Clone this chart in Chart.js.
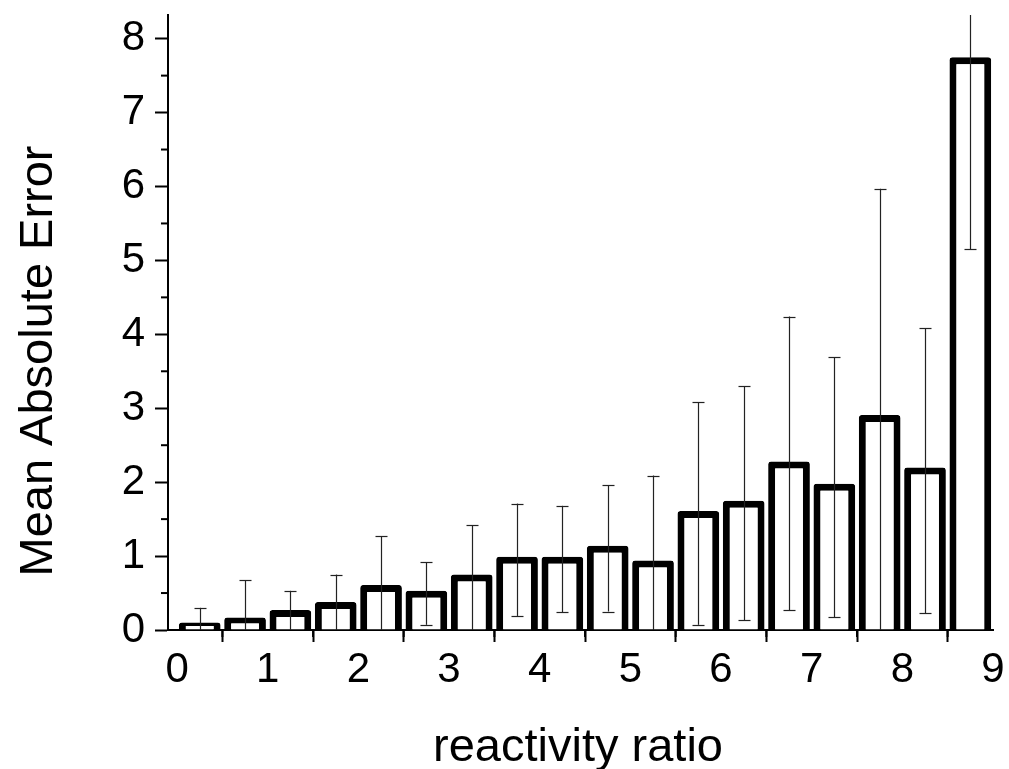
<!DOCTYPE html>
<html>
<head>
<meta charset="utf-8">
<script src="https://cdn.jsdelivr.net/npm/chart.js@4/dist/chart.umd.min.js"></script>
<style>
  html, body { margin: 0; padding: 0; background: #fff; }
  #wrap { width: 1009px; height: 769px; position: relative; }
</style>
</head>
<body>
<div id="wrap"><canvas id="c" width="1009" height="769"></canvas></div>
<script>
// ---- data ----
const xCenters = [0.25, 0.75, 1.25, 1.75, 2.25, 2.75, 3.25, 3.75, 4.25, 4.75, 5.25, 5.75, 6.25, 6.75, 7.25, 7.75, 8.25, 8.75];
const meanAbsError = [0.10, 0.17, 0.27, 0.38, 0.61, 0.53, 0.75, 0.99, 0.99, 1.14, 0.94, 1.61, 1.75, 2.28, 1.98, 2.91, 2.20, 7.75];
const errUpper = [0.30, 0.67, 0.53, 0.75, 1.27, 0.92, 1.42, 1.71, 1.68, 1.96, 2.09, 3.08, 3.30, 4.24, 3.69, 5.97, 4.08, 10.3];
const errLower = [0.00, 0.00, 0.00, 0.00, 0.00, 0.07, 0.00, 0.19, 0.24, 0.25, 0.00, 0.07, 0.13, 0.27, 0.17, 0.00, 0.23, 5.15];
const xTickValues = [0, 1, 2, 3, 4, 5, 6, 7, 8, 9];
const xMinorTickValues = [0.5, 1.5, 2.5, 3.5, 4.5, 5.5, 6.5, 7.5, 8.5];
const yTickValues = [0, 1, 2, 3, 4, 5, 6, 7, 8];
const yMinorTickValues = [0.5, 1.5, 2.5, 3.5, 4.5, 5.5, 6.5, 7.5];
const xTitle = 'reactivity ratio';
const yTitle = 'Mean Absolute Error';

const FONT = '"Liberation Sans", Arial, sans-serif';

const errorBarPlugin = {
  id: 'errorBars',
  afterDatasetsDraw(chart) {
    const ctx = chart.ctx;
    const xs = chart.scales.x, ys = chart.scales.y;
    const a = chart.chartArea;
    ctx.save();
    ctx.beginPath();
    ctx.rect(a.left, a.top, a.right - a.left, a.bottom - a.top);
    ctx.clip();
    ctx.strokeStyle = '#222';
    ctx.lineWidth = 1.2;
    xCenters.forEach((xv, i) => {
      const px = Math.round(xs.getPixelForValue(xv)) + 0.5;
      const yTop = ys.getPixelForValue(errUpper[i]);
      const yBot = ys.getPixelForValue(errLower[i]);
      ctx.beginPath();
      ctx.moveTo(px, yBot);
      ctx.lineTo(px, yTop);
      ctx.stroke();
      const yt = Math.round(yTop) + 0.5;
      ctx.beginPath();
      ctx.moveTo(px - 6, yt); ctx.lineTo(px + 6, yt);
      ctx.stroke();
      if (errLower[i] > 0) {
        const yb = Math.round(yBot) + 0.5;
        ctx.beginPath();
        ctx.moveTo(px - 6, yb); ctx.lineTo(px + 6, yb);
        ctx.stroke();
      }
    });
    ctx.restore();
  },
  afterDraw(chart) {
    const ctx = chart.ctx;
    const xs = chart.scales.x, ys = chart.scales.y;
    const a = chart.chartArea;
    ctx.save();
    ctx.strokeStyle = '#000';
    ctx.lineWidth = 2;
    // minor ticks
    xMinorTickValues.forEach(v => {
      const px = xs.getPixelForValue(v);
      ctx.beginPath(); ctx.moveTo(px, a.bottom); ctx.lineTo(px, a.bottom + 7); ctx.stroke();
    });
    yMinorTickValues.forEach(v => {
      const py = ys.getPixelForValue(v);
      ctx.beginPath(); ctx.moveTo(a.left, py); ctx.lineTo(a.left - 7, py); ctx.stroke();
    });
    // titles
    ctx.fillStyle = '#000';
    ctx.font = '47px ' + FONT;
    ctx.textAlign = 'center';
    ctx.textBaseline = 'alphabetic';
    ctx.fillText(xTitle, 578, 761);
    ctx.translate(52, 361);
    ctx.rotate(-Math.PI / 2);
    ctx.fillText(yTitle, 0, 0);
    ctx.restore();
  }
};

new Chart(document.getElementById('c'), {
  type: 'bar',
  data: {
    datasets: [{
      data: xCenters.map((x, i) => ({ x: x, y: meanAbsError[i] })),
      backgroundColor: '#fff',
      borderColor: '#000',
      borderWidth: 7,
      borderRadius: 3,
      borderSkipped: 'start',
      barPercentage: 0.92,
      categoryPercentage: 1.0
    }]
  },
  options: {
    responsive: false,
    animation: false,
    devicePixelRatio: 1,
    layout: { padding: { top: 15, right: 16, left: 0, bottom: 0 } },
    plugins: { legend: { display: false }, tooltip: { enabled: false } },
    scales: {
      x: {
        type: 'linear',
        min: -0.1, max: 9,
        offset: false,
        afterFit: s => { s.height = 139; s.paddingLeft = 0; s.paddingRight = 0; },
        afterBuildTicks: s => { s.ticks = xTickValues.map(v => ({ value: v })); },
        grid: { display: true, drawOnChartArea: false, drawTicks: true, tickLength: 12, tickWidth: 2, tickColor: '#000' },
        border: { display: true, color: '#000', width: 2 },
        ticks: { color: '#000', font: { family: FONT, size: 42 }, padding: 3, maxRotation: 0, autoSkip: false }
      },
      y: {
        min: 0, max: 8.32,
        afterFit: s => { s.width = 168; s.paddingTop = 0; s.paddingBottom = 0; },
        afterBuildTicks: s => { s.ticks = yTickValues.map(v => ({ value: v })); },
        grid: { display: true, drawOnChartArea: false, drawTicks: true, tickLength: 13, tickWidth: 2, tickColor: '#000' },
        border: { display: true, color: '#000', width: 2 },
        ticks: { color: '#000', font: { family: FONT, size: 42 }, padding: 10 }
      }
    }
  },
  plugins: [errorBarPlugin]
});
</script>
</body>
</html>
